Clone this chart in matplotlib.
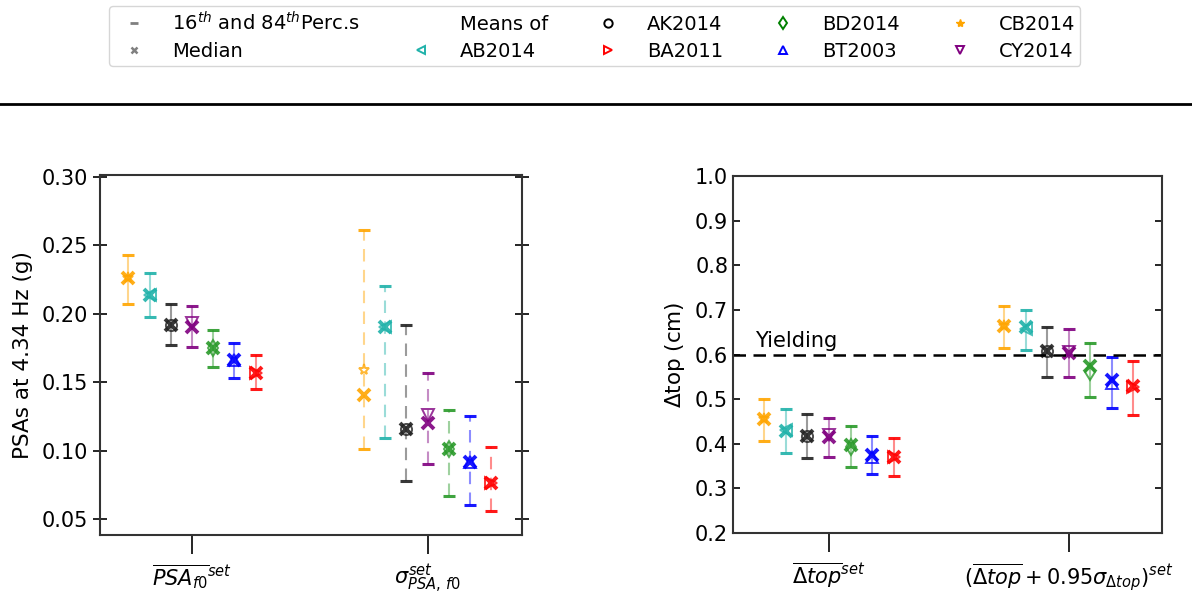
import matplotlib
matplotlib.use("Agg")
import matplotlib.pyplot as plt
from matplotlib.lines import Line2D
import numpy as np

# ---------------- data ----------------
models = ["CB2014", "AB2014", "AK2014", "CY2014", "BD2014", "BT2003", "BA2011"]
colors = ["orange", "lightseagreen", "#222222", "purple", "#2a9a2a", "blue", "red"]
markers = ["*", "<", "o", "v", "d", "^", ">"]

psa_groups = [r"$\overline{PSA_{f0}}^{set}$", r"$\sigma_{PSA,\,f0}^{set}$"]
dtop_groups = [r"$\overline{\Delta top}^{set}$",
               r"$(\overline{\Delta top} + 0.95\sigma_{\Delta top})^{set}$"]

# PSA mean set
psa_mean_p84 = [0.243, 0.230, 0.2075, 0.2055, 0.1885, 0.1785, 0.170]
psa_mean_med = [0.226, 0.2135, 0.192, 0.190, 0.175, 0.166, 0.157]
psa_mean_avg = [0.226, 0.214, 0.192, 0.193, 0.175, 0.166, 0.157]
psa_mean_p16 = [0.207, 0.198, 0.1775, 0.176, 0.161, 0.153, 0.145]
# PSA sigma set
psa_sig_p84 = [0.261, 0.2205, 0.192, 0.157, 0.130, 0.125, 0.103]
psa_sig_med = [0.1405, 0.190, 0.116, 0.120, 0.101, 0.092, 0.0765]
psa_sig_avg = [0.159, 0.190, 0.116, 0.126, 0.101, 0.092, 0.0765]
psa_sig_p16 = [0.101, 0.109, 0.078, 0.090, 0.067, 0.060, 0.056]
# Delta top mean set
dtop_mean_p84 = [0.500, 0.477, 0.466, 0.459, 0.4405, 0.418, 0.414]
dtop_mean_med = [0.455, 0.429, 0.417, 0.416, 0.397, 0.376, 0.371]
dtop_mean_avg = [0.455, 0.431, 0.417, 0.420, 0.392, 0.371, 0.371]
dtop_mean_p16 = [0.406, 0.380, 0.369, 0.371, 0.349, 0.332, 0.328]
# Delta top mean + 0.95 sigma set
dtop_plus_p84 = [0.709, 0.700, 0.661, 0.6565, 0.6265, 0.595, 0.585]
dtop_plus_med = [0.6645, 0.662, 0.608, 0.603, 0.574, 0.543, 0.529]
dtop_plus_avg = [0.6645, 0.657, 0.608, 0.606, 0.5615, 0.537, 0.5265]
dtop_plus_p16 = [0.614, 0.610, 0.549, 0.550, 0.505, 0.481, 0.464]

yielding = 0.6

# ---------------- figure ----------------
fig = plt.figure(figsize=(11.92, 6.01), dpi=100)
ax1 = fig.add_axes([0.0839, 0.110, 0.354, 0.598])
ax2 = fig.add_axes([0.615, 0.113, 0.360, 0.594])

offsets = (np.arange(len(models)) - 3) * 0.09


def draw_group(ax, gx, p16, med, avg, p84, dashed):
    for i in range(len(models)):
        x = gx + offsets[i]
        c = colors[i]
        eb = ax.errorbar([x], [med[i]], yerr=[[med[i] - p16[i]], [p84[i] - med[i]]],
                         fmt="none", ecolor=c, capsize=4, capthick=2.2,
                         elinewidth=1.5)
        for lc in eb[2]:
            lc.set_alpha(0.45)
            if dashed:
                lc.set_linestyle((0, (6, 4)))
        for cl in eb[1]:
            cl.set_alpha(0.9)
        ax.plot([x], [med[i]], marker="x", ms=8, mew=2.8, color=c, alpha=0.9,
                linestyle="none")
        ax.plot([x], [avg[i]], marker=markers[i], ms=8, mew=1.4, mfc="none",
                mec=c, alpha=0.8, linestyle="none")


draw_group(ax1, 0, psa_mean_p16, psa_mean_med, psa_mean_avg, psa_mean_p84, False)
draw_group(ax1, 1, psa_sig_p16, psa_sig_med, psa_sig_avg, psa_sig_p84, True)
draw_group(ax2, 0, dtop_mean_p16, dtop_mean_med, dtop_mean_avg, dtop_mean_p84, False)
draw_group(ax2, 1, dtop_plus_p16, dtop_plus_med, dtop_plus_avg, dtop_plus_p84, False)

ax2.axhline(yielding, color="black", ls=(0, (5, 3)), lw=1.8)
ax2.text(-0.31, yielding + 0.008, "Yielding", fontsize=15, va="bottom", ha="left")

ax1.set_xlim(-0.39, 1.4)
ax1.set_ylim(0.0385, 0.301)
ax1.set_yticks([0.05, 0.10, 0.15, 0.20, 0.25, 0.30])
ax1.set_yticklabels(["%.2f" % v for v in [0.05, 0.10, 0.15, 0.20, 0.25, 0.30]])
ax1.set_ylabel("PSAs at 4.34 Hz (g)", fontsize=15.5, labelpad=6)

ax2.set_xlim(-0.4, 1.39)
ax2.set_ylim(0.2, 1.0)
ax2.set_yticks(np.round(np.arange(0.2, 1.01, 0.1), 1))
ax2.set_yticklabels(["%.1f" % v for v in np.arange(0.2, 1.01, 0.1)])
ax2.set_ylabel(r"$\Delta$top (cm)", fontsize=15.5, labelpad=6)

for ax, labs in ((ax1, psa_groups), (ax2, dtop_groups)):
    ax.set_xticks([0, 1])
    ax.set_xticklabels(labs, fontsize=15)
    ax.tick_params(axis="x", direction="out", length=14, width=1.2, pad=6)
    ax.tick_params(axis="y", labelsize=15, direction="in", length=5, width=1.2,
                   right=True)
    for s in ax.spines.values():
        s.set_linewidth(1.5)
        s.set_color("#333333")
ax1.tick_params(axis="y", which="major", left=True, direction="inout", length=10)
ax1.tick_params(axis="y", right=True)

# horizontal figure line
fig.add_artist(Line2D([0, 1], [0.827, 0.827], transform=fig.transFigure,
                      color="black", lw=2))

# legend
handles = [
    Line2D([], [], marker="_", color="gray", ls="none", ms=6, mew=2),
    Line2D([], [], marker="x", color="gray", ls="none", ms=5, mew=1.8),
    Line2D([], [], ls="none"),
    Line2D([], [], marker="<", ls="none", mfc="none", mec=colors[1], ms=6, mew=1.4),
    Line2D([], [], marker="o", ls="none", mfc="none", mec="black", ms=6, mew=1.4),
    Line2D([], [], marker=">", ls="none", mfc="none", mec="red", ms=6, mew=1.4),
    Line2D([], [], marker="d", ls="none", mfc="none", mec="green", ms=6, mew=1.4),
    Line2D([], [], marker="^", ls="none", mfc="none", mec="blue", ms=6, mew=1.4),
    Line2D([], [], marker="*", ls="none", color="orange", ms=6),
    Line2D([], [], marker="v", ls="none", mfc="none", mec="purple", ms=6, mew=1.4),
]
labels = [r"16$^{th}$ and 84$^{th}$Perc.s", "Median", "Means of", "AB2014",
          "AK2014", "BA2011", "BD2014", "BT2003", "CB2014", "CY2014"]
fig.legend(handles, labels, loc="upper center", bbox_to_anchor=(0.499, 1.006),
           ncol=5, fontsize=14, columnspacing=2.1, handletextpad=1.0,
           borderpad=0.25, labelspacing=0.4)

fig.savefig("out.png", dpi=100)
